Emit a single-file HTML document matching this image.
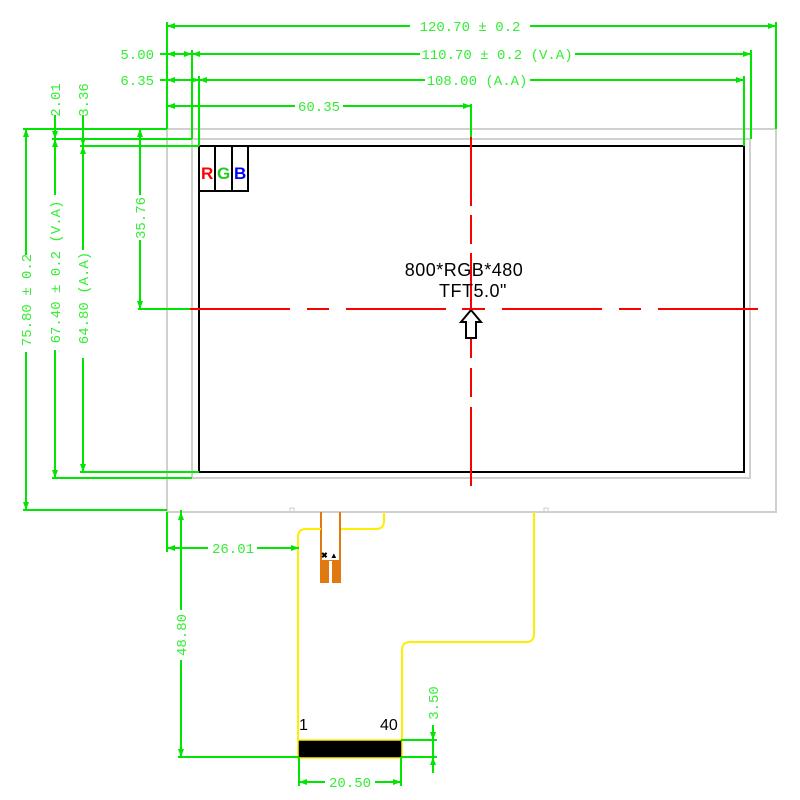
<!DOCTYPE html>
<html><head><meta charset="utf-8"><style>
html,body{margin:0;padding:0;background:#fff}
svg{display:block}
.d{stroke:#00e600;stroke-width:2;fill:none}
.t{fill:#33ee33;font-family:"Liberation Mono",monospace;font-size:14px}
</style></head><body>
<svg width="800" height="800" viewBox="0 0 800 800" xmlns="http://www.w3.org/2000/svg">
<defs>
<marker id="a" markerWidth="8" markerHeight="6" refX="8" refY="3" orient="auto-start-reverse" markerUnits="userSpaceOnUse"><path d="M0,0 L8,3 L0,6z" fill="#00e600"/></marker>
</defs>
<!-- panel outlines -->
<rect x="167" y="129" width="609" height="383" fill="none" stroke="#d0d0cc" stroke-width="2"/>
<rect x="192" y="139" width="558" height="339" fill="none" stroke="#d0d0cc" stroke-width="2"/>
<rect x="199" y="146" width="545" height="326" fill="none" stroke="#000" stroke-width="2"/>
<path d="M290,512 v-4 h4 v4 M544,512 v-4 h4 v4" stroke="#ccc" fill="none"/>
<!-- RGB box -->
<path d="M199,191 H248 V146 M215,146 V191 M232,146 V191" stroke="#000" stroke-width="2" fill="none"/>
<text x="201" y="179" font-family="Liberation Sans,sans-serif" font-size="17" font-weight="bold" fill="#f00">R</text>
<text x="217" y="179" font-family="Liberation Sans,sans-serif" font-size="17" font-weight="bold" fill="#2c2">G</text>
<text x="234" y="179" font-family="Liberation Sans,sans-serif" font-size="17" font-weight="bold" fill="#00f">B</text>
<!-- center lines -->
<line x1="190" y1="309" x2="758" y2="309" stroke="#f00" stroke-width="2" stroke-dasharray="100,17,22,17"/>
<path d="M471,137 V206 M471,215 V244 M471,253 V358 M471,368 V397 M471,407 V486" stroke="#f00" stroke-width="2"/>
<text x="464" y="276" text-anchor="middle" font-family="Liberation Sans,sans-serif" font-size="18" letter-spacing="0.5" fill="#000">800*RGB*480</text>
<text x="473" y="297" text-anchor="middle" font-family="Liberation Sans,sans-serif" font-size="18" letter-spacing="0.5" fill="#000">TFT5.0"</text>
<path d="M466,338 V322 H461 L471,310 L481,322 H476 V338 Z" fill="#fff" stroke="#000" stroke-width="2"/>
<line x1="462" y1="309" x2="483" y2="309" stroke="#f00" stroke-width="2"/>
<!-- top dims -->
<path class="d" d="M167,22 V129 M192,50 V139 M199,76 V146 M776,22 V129 M751,50 V139 M744,76 V146 M471,104 V137"/>
<line class="d" x1="167" y1="26" x2="410" y2="26" marker-start="url(#a)"/>
<line class="d" x1="530" y1="26" x2="776" y2="26" marker-end="url(#a)"/>
<text class="t" x="470" y="31" text-anchor="middle">120.70 ± 0.2</text>
<line class="d" x1="160" y1="54" x2="167" y2="54"/>
<line class="d" x1="167" y1="54" x2="192" y2="54" marker-start="url(#a)" marker-end="url(#a)"/>
<line class="d" x1="192" y1="54" x2="420" y2="54" marker-start="url(#a)"/>
<line class="d" x1="575" y1="54" x2="751" y2="54" marker-end="url(#a)"/>
<text class="t" x="154" y="59" text-anchor="end">5.00</text>
<text class="t" x="497" y="59" text-anchor="middle">110.70 ± 0.2 (V.A)</text>
<line class="d" x1="160" y1="80" x2="167" y2="80"/>
<line class="d" x1="167" y1="80" x2="199" y2="80" marker-start="url(#a)" marker-end="url(#a)"/>
<line class="d" x1="199" y1="80" x2="425" y2="80" marker-start="url(#a)"/>
<line class="d" x1="530" y1="80" x2="744" y2="80" marker-end="url(#a)"/>
<text class="t" x="154" y="85" text-anchor="end">6.35</text>
<text class="t" x="477" y="85" text-anchor="middle">108.00 (A.A)</text>
<line class="d" x1="167" y1="106" x2="295" y2="106" marker-start="url(#a)"/>
<line class="d" x1="343" y1="106" x2="471" y2="106" marker-end="url(#a)"/>
<text class="t" x="319" y="111" text-anchor="middle">60.35</text>
<!-- left dims -->
<path class="d" d="M23,129 H167 M52,139 H192 M80,146 H199 M23,510 H167 M52,478 H192 M80,472 H199 M138,309 H190"/>
<line class="d" x1="26" y1="129" x2="26" y2="255" marker-start="url(#a)"/>
<line class="d" x1="26" y1="352" x2="26" y2="510" marker-end="url(#a)"/>
<text class="t" transform="translate(31,300) rotate(-90)" text-anchor="middle">75.80 ± 0.2</text>
<line class="d" x1="55" y1="115" x2="55" y2="139" marker-end="url(#a)"/>
<line class="d" x1="55" y1="139" x2="55" y2="195" marker-start="url(#a)"/>
<line class="d" x1="55" y1="350" x2="55" y2="478" marker-end="url(#a)"/>
<text class="t" transform="translate(60,100) rotate(-90)" text-anchor="middle">2.01</text>
<text class="t" transform="translate(60,272) rotate(-90)" text-anchor="middle">67.40 ± 0.2  (V.A)</text>
<line class="d" x1="83" y1="115" x2="83" y2="146" marker-end="url(#a)"/>
<line class="d" x1="83" y1="146" x2="83" y2="250" marker-start="url(#a)"/>
<line class="d" x1="83" y1="358" x2="83" y2="472" marker-end="url(#a)"/>
<text class="t" transform="translate(88,100) rotate(-90)" text-anchor="middle">3.36</text>
<text class="t" transform="translate(88,298) rotate(-90)" text-anchor="middle">64.80 (A.A)</text>
<line class="d" x1="140" y1="129" x2="140" y2="195" marker-start="url(#a)"/>
<line class="d" x1="140" y1="240" x2="140" y2="309" marker-end="url(#a)"/>
<text class="t" transform="translate(145,218) rotate(-90)" text-anchor="middle">35.76</text>
<!-- FPC -->
<path d="M321,512 V583 M340,512 V583" stroke="#e07a10" stroke-width="2"/>
<rect x="321" y="560" width="19" height="23" fill="#e07a10"/>
<rect x="329" y="561" width="3" height="22" fill="#fff"/>
<text x="321" y="558" font-size="8" font-family="Liberation Sans,sans-serif" font-weight="bold">✖ ▲</text>
<path d="M384,512 V521 Q384,529 376,529 H341 M321,529 H306 Q298,529 298,537 V740 M534,512 V634 Q534,642 526,642 H410 Q402,642 402,650 V740" stroke="#ffee00" stroke-width="2" fill="none"/>
<rect x="298" y="740" width="104" height="18" fill="#000" stroke="#ffee00" stroke-width="1.5"/>
<text x="299" y="730" font-family="Liberation Sans,sans-serif" font-size="16">1</text>
<text x="380" y="730" font-family="Liberation Sans,sans-serif" font-size="16">40</text>
<!-- bottom dims -->
<path class="d" d="M167,512 V552 M181,510 V514 M178,757 H299 M299,758 V786 M401,758 V786 M401,740 H437 M401,757 H437"/>
<line class="d" x1="167" y1="548" x2="208" y2="548" marker-start="url(#a)"/>
<line class="d" x1="257" y1="548" x2="299" y2="548" marker-end="url(#a)"/>
<text class="t" x="233" y="553" text-anchor="middle">26.01</text>
<line class="d" x1="181" y1="512" x2="181" y2="610" marker-start="url(#a)"/>
<line class="d" x1="181" y1="660" x2="181" y2="757" marker-end="url(#a)"/>
<text class="t" transform="translate(186,635) rotate(-90)" text-anchor="middle">48.80</text>
<line class="d" x1="299" y1="782" x2="325" y2="782" marker-start="url(#a)"/>
<line class="d" x1="375" y1="782" x2="401" y2="782" marker-end="url(#a)"/>
<text class="t" x="350" y="787" text-anchor="middle">20.50</text>
<line class="d" x1="433" y1="725" x2="433" y2="740" marker-end="url(#a)"/>
<line class="d" x1="433" y1="757" x2="433" y2="773" marker-start="url(#a)"/>
<line class="d" x1="433" y1="740" x2="433" y2="757"/>
<text class="t" transform="translate(438,703) rotate(-90)" text-anchor="middle">3.50</text>
</svg>
</body></html>
